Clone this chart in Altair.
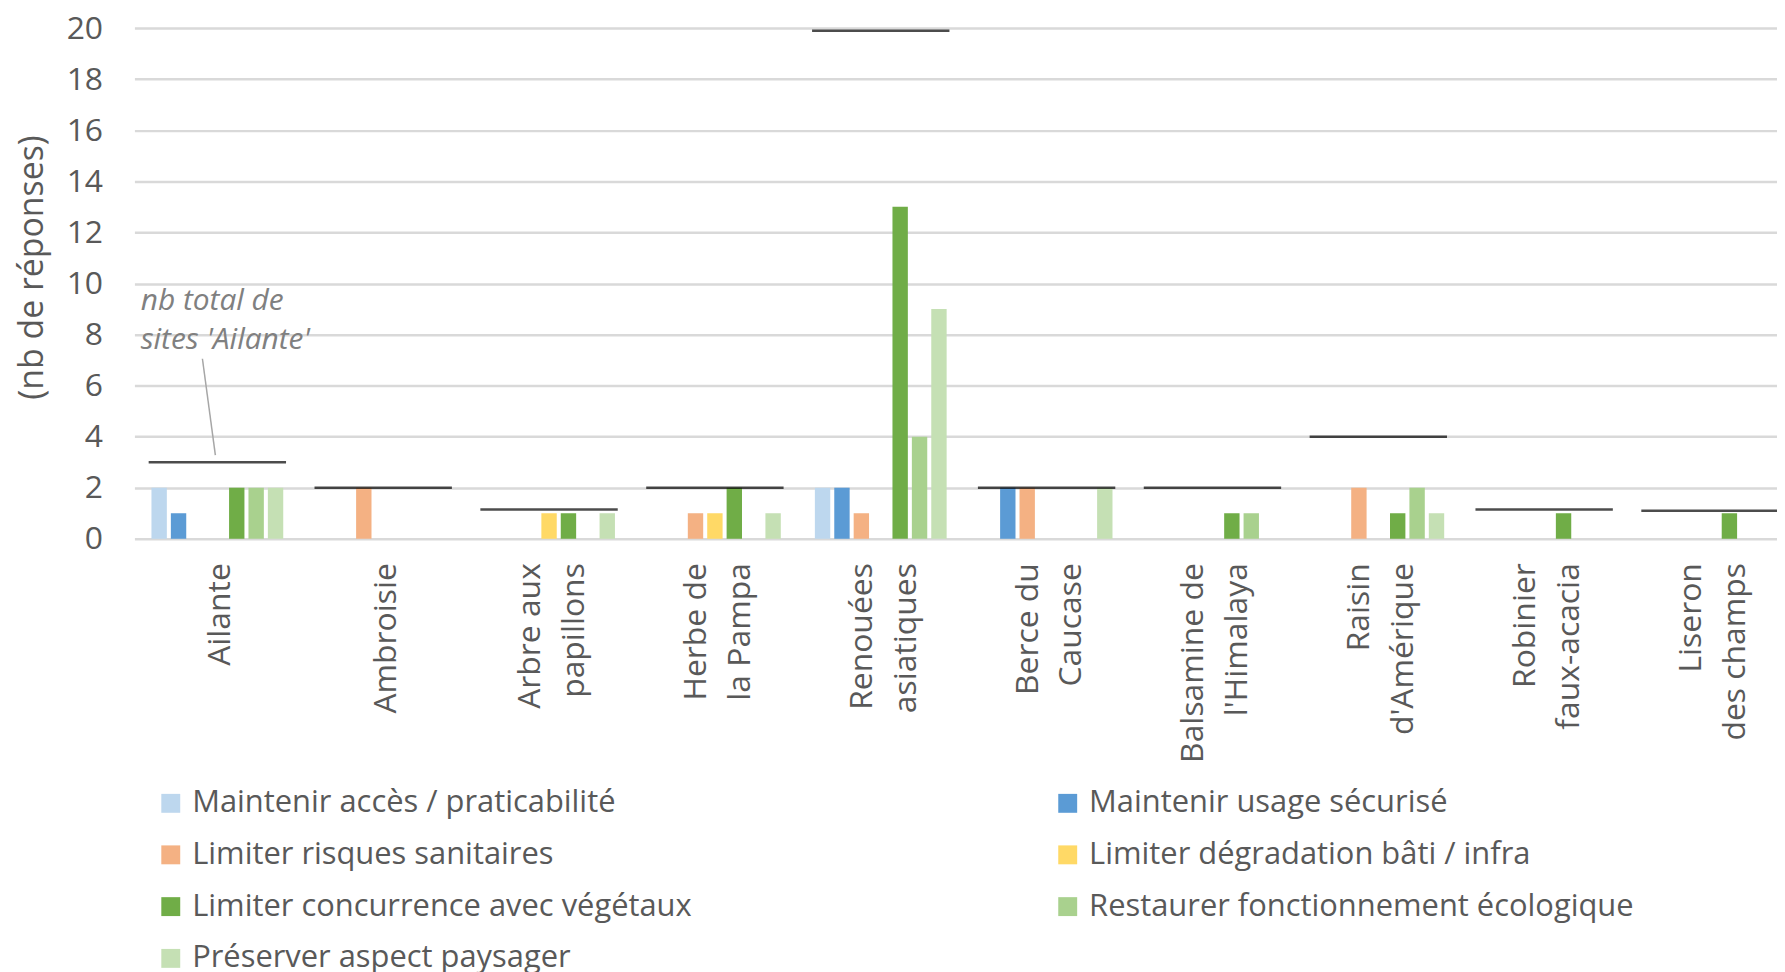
import altair as alt
import pandas as pd

categories = ["Ailante", "Ambroisie", "Arbre aux\npapillons", "Herbe de\nla Pampa",
              "Renouées\nasiatiques", "Berce du\nCaucase", "Balsamine de\nl'Himalaya",
              "Raisin\nd'Amérique", "Robinier\nfaux-acacia", "Liseron\ndes champs"]

series = ["Maintenir accès / praticabilité", "Maintenir usage sécurisé",
          "Limiter risques sanitaires", "Limiter dégradation bâti / infra",
          "Limiter concurrence avec végétaux", "Restaurer fonctionnement écologique",
          "Préserver aspect paysager"]
colors = ["#BDD7EE", "#5B9BD5", "#F4B183", "#FFD966", "#70AD47", "#A9D18E", "#C5E0B4"]

acces = [2, 0, 0, 0, 2, 0, 0, 0, 0, 0]
usage = [1, 0, 0, 0, 2, 2, 0, 0, 0, 0]
sanitaires = [0, 2, 0, 1, 1, 2, 0, 2, 0, 0]
degradation = [0, 0, 1, 1, 0, 0, 0, 0, 0, 0]
concurrence = [2, 0, 1, 2, 13, 0, 1, 1, 1, 1]
restaurer = [2, 0, 0, 0, 4, 0, 1, 2, 0, 0]
paysager = [2, 0, 1, 1, 9, 2, 0, 1, 0, 0]

totals = [3, 2, 1.15, 2, 19.9, 2, 2, 4, 1.15, 1.1]

annot_lines = ["nb total de", "sites 'Ailante'"]
annot_y = [9.3, 7.8]
leader_top = 7.05
leader_bottom = 3.28

FONT = "Open Sans"
GREY = "#595959"

values = [acces, usage, sanitaires, degradation, concurrence, restaurer, paysager]
rows = []
for s, vals in zip(series, values):
    for c, v in zip(categories, vals):
        rows.append({"cat": c, "series": s, "value": v})
bars_df = pd.DataFrame(rows)
totals_df = pd.DataFrame({"cat": categories, "total": totals})
annot_df = pd.DataFrame({"cat": [categories[0]] * 2, "txt": annot_lines, "y": annot_y})
leader_df = pd.DataFrame({"cat": [categories[0]], "y": [leader_top], "y2": [leader_bottom]})

xscale = alt.Scale(domain=categories, paddingInner=0.182, paddingOuter=0.091, range=[0, 1666])
yscale = alt.Scale(domain=[0, 20], nice=False)

x_axis = alt.Axis(labelAngle=-90, labelAlign="right", labelBaseline="middle",
                  labelPadding=24, labelFont=FONT, labelFontSize=32,
                  labelColor=GREY, labelLineHeight=44, labelLimit=400,
                  labelExpr="split(datum.label, '\\n')",
                  labelOffset={"condition": {"test": "indexof(datum.value, '\\n') >= 0",
                                             "value": -19},
                               "value": 3},
                  domain=False, domainColor="transparent", domainWidth=0,
                  ticks=False, grid=False)

y_axis = alt.Axis(values=list(range(0, 21, 2)), grid=True, gridColor="#D9D9D9",
                  gridWidth=2.5, domain=False, domainColor="transparent", domainWidth=0,
                  ticks=False, labelPadding=32, labelFont=FONT, labelFontSize=32,
                  labelColor=GREY, titleFont=FONT, titleFontSize=34,
                  titleFontWeight="normal", titleColor=GREY, titleAngle=270,
                  titleAlign="center", titleBaseline="middle", titleX=-102, titleY=240)

YTITLE = "(nb de réponses)"


def xe():
    return alt.X("cat:N", sort=categories, scale=xscale, title=None, axis=x_axis)


def ye(field):
    return alt.Y(field, scale=yscale, title=YTITLE, axis=y_axis)


bars = alt.Chart(bars_df).mark_bar().encode(
    x=xe(),
    xOffset=alt.XOffset("series:N", sort=series,
                        scale=alt.Scale(domain=series, paddingInner=0.207, paddingOuter=0.1)),
    y=ye("value:Q"),
    color=alt.Color("series:N", sort=series,
                    scale=alt.Scale(domain=series, range=colors),
                    legend=alt.Legend(title=None, orient="none", legendX=21, legendY=763,
                                      direction="horizontal", columns=2, columnPadding=362,
                                      rowPadding=20, symbolType="square", symbolSize=361,
                                      symbolStrokeWidth=0, labelFont=FONT,
                                      labelFontSize=31, labelColor=GREY, labelOffset=6,
                                      labelLimit=1000, padding=0)),
)

ticks = alt.Chart(totals_df).mark_tick(color="#000000", thickness=2.5, size=138).encode(
    x=xe(),
    y=ye("total:Q"),
)

leader = alt.Chart(leader_df).mark_rule(color="#A6A6A6", strokeWidth=1.5,
                                        xOffset=-15, x2Offset=-2).encode(
    x=xe(),
    x2=alt.X2("cat"),
    y=ye("y:Q"),
    y2=alt.Y2("y2"),
)

annot = alt.Chart(annot_df).mark_text(align="left", baseline="middle", dx=-77,
                                      font=FONT, fontSize=30, fontStyle="italic",
                                      color="#808080").encode(
    x=xe(),
    y=ye("y:Q"),
    text="txt:N",
)

chart = alt.layer(bars, ticks, leader, annot).properties(
    width=1650, height=513,
    background="white",
    autosize=alt.AutoSizeParams(type="none"),
    padding={"left": 127, "top": 18, "right": 0, "bottom": 433},
).configure_view(
    stroke="transparent", strokeWidth=0, strokeOpacity=0
).configure_axis(
    domain=False, domainColor="transparent"
).configure_axisBand(grid=False, domain=False, domainColor="transparent")

chart.save("out.html", embed_options={"renderer": "svg", "actions": False})
